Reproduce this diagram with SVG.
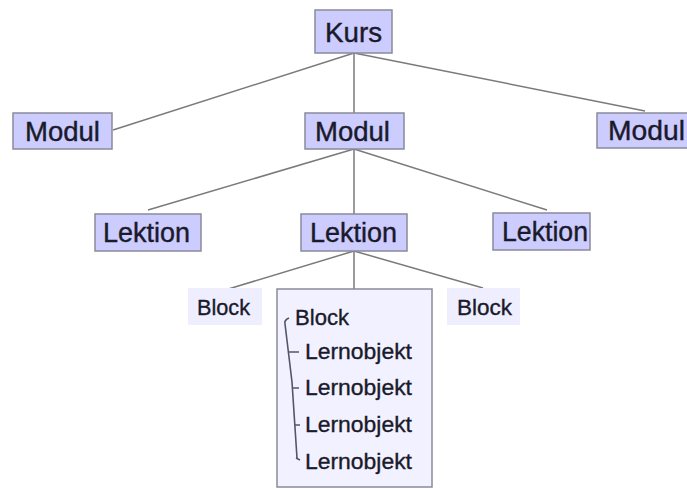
<svg xmlns="http://www.w3.org/2000/svg" width="687" height="490" viewBox="0 0 687 490">
  <style>
    .box { fill: #ccccff; stroke: #8a8a9a; stroke-width: 1.5; }
    .soft { fill: #eeeeff; stroke: none; }
    .panel { fill: #f1f1ff; stroke: #8a8a9a; stroke-width: 1.5; }
    .big { font-family: "Liberation Sans", Arial, sans-serif; font-size: 27px; fill: #1a1a2a; stroke: #1a1a2a; stroke-width: 0.4; }
    .small { font-family: "Liberation Sans", Arial, sans-serif; font-size: 22px; fill: #1a1a2a; stroke: #1a1a2a; stroke-width: 0.35; }
    .edge { stroke: #7a7a7a; stroke-width: 1.5; fill: none; }
    .tree { stroke: #55556a; stroke-width: 1.6; fill: none; }
  </style>
  <rect width="687" height="490" fill="#ffffff"/>

  <g id="connectors">
    <line class="edge" x1="354" y1="53" x2="113" y2="130"/>
    <line class="edge" x1="354" y1="53" x2="354" y2="113"/>
    <line class="edge" x1="354" y1="53" x2="645" y2="111"/>
    <line class="edge" x1="354" y1="149" x2="148" y2="210"/>
    <line class="edge" x1="354" y1="149" x2="354" y2="214"/>
    <line class="edge" x1="354" y1="149" x2="547" y2="210"/>
    <line class="edge" x1="354" y1="251" x2="225" y2="290"/>
    <line class="edge" x1="354" y1="251" x2="354" y2="289"/>
    <line class="edge" x1="354" y1="251" x2="483" y2="288"/>
  </g>

  <g id="kurs">
    <rect class="box" x="315" y="10" width="77" height="43"/>
    <text class="big" x="353.5" y="42" text-anchor="middle" textLength="57" lengthAdjust="spacingAndGlyphs">Kurs</text>
  </g>

  <g id="modul-left">
    <rect class="box" x="13" y="113" width="99" height="36"/>
    <text class="big" x="25" y="141" textLength="75" lengthAdjust="spacingAndGlyphs">Modul</text>
  </g>
  <g id="modul-mid">
    <rect class="box" x="305" y="113" width="99" height="36"/>
    <text class="big" x="315" y="141" textLength="75" lengthAdjust="spacingAndGlyphs">Modul</text>
  </g>
  <g id="modul-right">
    <rect class="box" x="597" y="113" width="99" height="35"/>
    <text class="big" x="608" y="140" textLength="77" lengthAdjust="spacingAndGlyphs">Modul</text>
  </g>

  <g id="lektion-left">
    <rect class="box" x="95" y="214" width="106" height="37"/>
    <text class="big" x="103" y="242" textLength="87" lengthAdjust="spacingAndGlyphs">Lektion</text>
  </g>
  <g id="lektion-mid">
    <rect class="box" x="301" y="214" width="106" height="37"/>
    <text class="big" x="310" y="242" textLength="87" lengthAdjust="spacingAndGlyphs">Lektion</text>
  </g>
  <g id="lektion-right">
    <rect class="box" x="493" y="213" width="97" height="37"/>
    <text class="big" x="502" y="241" textLength="86" lengthAdjust="spacingAndGlyphs">Lektion</text>
  </g>

  <g id="block-left">
    <rect class="soft" x="188" y="288" width="74" height="37"/>
    <text class="small" x="197" y="315" textLength="53" lengthAdjust="spacingAndGlyphs">Block</text>
  </g>
  <g id="block-right">
    <rect class="soft" x="447" y="288" width="73" height="37"/>
    <text class="small" x="457" y="315" textLength="55" lengthAdjust="spacingAndGlyphs">Block</text>
  </g>

  <g id="block-mid">
    <rect class="panel" x="277" y="289" width="155" height="198"/>
    <path class="tree" d="M289 318 Q284 320 285 324 L292 382 L297 458"/>
    <path class="tree" d="M289 352 L299 352 M292 388 L299 388 M294 425 L300 425 M296 458 L300 460" stroke-width="1"/>
    <text class="small" x="295" y="325" textLength="54" lengthAdjust="spacingAndGlyphs">Block</text>
    <text class="small" x="305" y="359" textLength="107" lengthAdjust="spacingAndGlyphs">Lernobjekt</text>
    <text class="small" x="305" y="395" textLength="107" lengthAdjust="spacingAndGlyphs">Lernobjekt</text>
    <text class="small" x="305" y="432" textLength="107" lengthAdjust="spacingAndGlyphs">Lernobjekt</text>
    <text class="small" x="305" y="469" textLength="107" lengthAdjust="spacingAndGlyphs">Lernobjekt</text>
  </g>
</svg>
